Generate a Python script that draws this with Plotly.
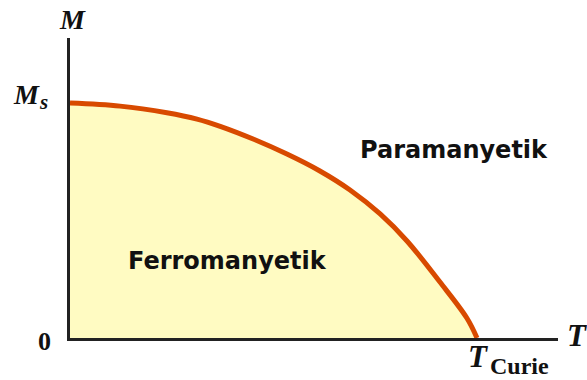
import plotly.graph_objects as go

# Magnetisation curve M(T)/Ms versus T/T_Curie
T_vals = [0.0, 0.123, 0.238, 0.312, 0.369, 0.450, 0.533, 0.614, 0.688, 0.762, 0.828, 0.909, 0.975, 1.0]
M_vals = [1.0, 0.987, 0.959, 0.932, 0.901, 0.847, 0.783, 0.711, 0.630, 0.528, 0.413, 0.238, 0.085, 0.0]

region_labels = ["Ferromanyetik", "Paramanyetik"]

W, H = 587, 380
L, R, TOP, B = 70, 29, 38, 42
PW = W - L - R
PH = H - TOP - B
XMAX = 1.199
YMAX = 1.277


def pxr(X):
    return (X - L) / PW


def pyr(Y):
    return (H - B - Y) / PH


fig = go.Figure()
fig.add_trace(go.Scatter(
    x=T_vals, y=M_vals, mode="lines", line_shape="spline",
    line=dict(color="#D84A00", width=5, smoothing=1.0),
    fill="tozeroy", fillcolor="#FFFBC2", hoverinfo="skip",
))

serif = "Liberation Serif"
sans = "DejaVu Sans"
ink = "#111"
ann = [
    dict(x=pxr(72), y=pyr(20), text="<b><i>M</i></b>", font=dict(family=serif, size=28, color=ink)),
    dict(x=pxr(42), y=pyr(94), text="<b><i>M</i></b>", font=dict(family=serif, size=28, color=ink), xanchor="right"),
    dict(x=pxr(37), y=pyr(102), text="<b><i>s</i></b>", font=dict(family=serif, size=21, color=ink), xanchor="left"),
    dict(x=pxr(44), y=pyr(341), text="<b>0</b>", font=dict(family=serif, size=26, color=ink)),
    dict(x=pxr(565), y=pyr(335), text="<b><i>T</i></b>", font=dict(family=serif, size=31, color=ink), xanchor="left"),
    dict(x=pxr(490), y=pyr(356), text="<b><i>T</i></b>", font=dict(family=serif, size=31, color=ink), xanchor="right"),
    dict(x=pxr(488), y=pyr(366), text="<b>Curie</b>", font=dict(family=serif, size=24, color=ink), xanchor="left"),
    dict(x=pxr(227), y=pyr(261), text="<b>" + region_labels[0] + "</b>", font=dict(family=sans, size=24, color=ink)),
    dict(x=pxr(454), y=pyr(150), text="<b>" + region_labels[1] + "</b>", font=dict(family=sans, size=24, color=ink)),
]
for a in ann:
    a.update(xref="paper", yref="paper", showarrow=False)
    a.setdefault("xanchor", "center")
    a.setdefault("yanchor", "middle")

fig.update_layout(
    width=W, height=H,
    margin=dict(l=L, r=R, t=TOP, b=B),
    paper_bgcolor="white", plot_bgcolor="white",
    showlegend=False,
    annotations=ann,
    xaxis=dict(range=[0, XMAX], showgrid=False, zeroline=False, showticklabels=False,
               ticks="", showline=True, linecolor="#222", linewidth=3),
    yaxis=dict(range=[0, YMAX], showgrid=False, zeroline=False, showticklabels=False,
               ticks="", showline=True, linecolor="#222", linewidth=3),
)

fig.write_html("out.html", config={"displayModeBar": False},
               post_script="document.body.style.margin='0';")
